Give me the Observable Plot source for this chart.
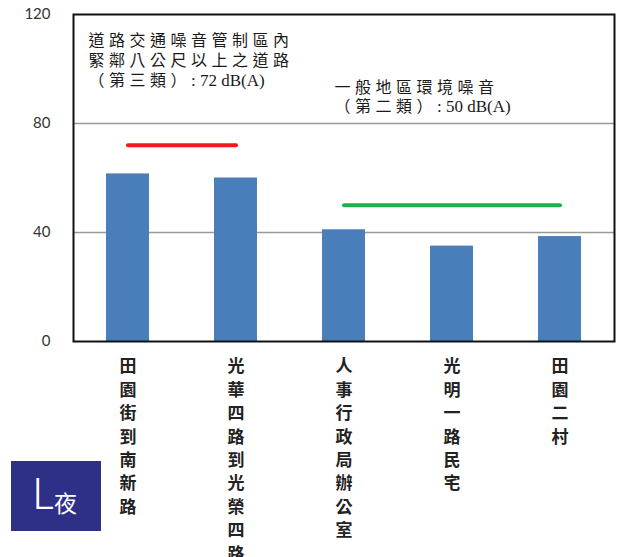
<!DOCTYPE html>
<html>
<head>
<meta charset="utf-8">
<script src="https://cdn.jsdelivr.net/npm/d3@7"></script>
<script src="https://cdn.jsdelivr.net/npm/@observablehq/plot@0.6"></script>
<style>
  body { margin: 0; background: #fff; }
  #wrap { position: relative; width: 630px; height: 557px; overflow: hidden; }
  #badge { position: absolute; left: 11px; top: 461px; width: 90px; height: 70px; background: #2E2F87; color: #fff; font-family: "Noto Sans CJK TC", "Noto Sans", sans-serif; }
  #badge .L { position: absolute; left: 21px; top: 9px; font-size: 42px; font-weight: 300; line-height: 1; }
  #badge .n { position: absolute; left: 43px; top: 30px; font-size: 23px; line-height: 1; }
  .note text { letter-spacing: 4.5px; }
  .note .latin { letter-spacing: 0; font-family: "Liberation Serif", "DejaVu Serif", serif; font-size: 17px; }
</style>
</head>
<body>
<div id="wrap">
<div id="chart"></div>
<div id="badge"><span class="L">L</span><span class="n">夜</span></div>
</div>
<script>
const categories = ["田園街到南新路", "光華四路到光榮四路", "人事行政局辦公室", "光明一路民宅", "田園二村"];
const values = [61.5, 60, 41, 35, 38.5];
const yTicks = [0, 40, 80, 120];
const gridTicks = [40, 80];
const limit3Value = 72;
const limit3Cats = [categories[0], categories[1]];
const limit2Value = 50;
const limit2Cats = [categories[2], categories[3], categories[4]];
const note3 = ["道路交通噪音管制區內", "緊鄰八公尺以上之道路", "（第三類）: 72 dB(A)"];
const note2 = ["一般地區環境噪音", "（第二類）: 50 dB(A)"];

const data = categories.map((c, i) => ({ category: c, value: values[i] }));
const limit3 = limit3Cats.map(c => ({ category: c, value: limit3Value }));
const limit2 = limit2Cats.map(c => ({ category: c, value: limit2Value }));
const cjk = '"Noto Sans CJK TC", "Noto Sans", sans-serif';

const chart = Plot.plot({
  width: 630,
  height: 557,
  marginLeft: 73,
  marginRight: 16,
  marginTop: 14,
  marginBottom: 216,
  style: { fontFamily: cjk, background: "#fff" },
  x: { domain: categories, paddingInner: 0.6, paddingOuter: 0.3, axis: null },
  y: { domain: [0, 120], ticks: yTicks, axis: null },
  marks: [
    Plot.ruleY(gridTicks, { stroke: "#999", strokeWidth: 1.5 }),
    Plot.barY(data, { x: "category", y: "value", fill: "#4A7EBB" }),
    Plot.line(limit3, { x: "category", y: "value", stroke: "#EE1C1C", strokeWidth: 4, strokeLinecap: "round" }),
    Plot.line(limit2, { x: "category", y: "value", stroke: "#1DB04C", strokeWidth: 4, strokeLinecap: "round" }),
    Plot.frame({ stroke: "#111", strokeWidth: 2 }),
    Plot.text(yTicks, { y: d => d, text: d => String(d), frameAnchor: "left", textAnchor: "end", dx: -23, fontSize: 15, fill: "#333", fontFamily: "Lato, 'Open Sans', sans-serif" }),
    Plot.text([note3.join("\n")], { frameAnchor: "top-left", dx: 15, dy: 17, textAnchor: "start", lineAnchor: "top", lineHeight: 1.25, fontSize: 16, fill: "#1a1a1a", className: "note" }),
    Plot.text([note2.join("\n")], { frameAnchor: "top-left", dx: 261, dy: 65, textAnchor: "start", lineAnchor: "top", lineHeight: 1.2, fontSize: 16, fill: "#1a1a1a", className: "note" }),
    Plot.text(categories, { x: d => d, text: d => Array.from(d).join("\n"), frameAnchor: "bottom", lineAnchor: "top", dy: 14, lineHeight: 1.38, fontSize: 17, fontWeight: "bold", fill: "#222" })
  ]
});
// style Latin runs in the notes without letter spacing, in a serif face
d3.select(chart).selectAll(".note tspan").each(function () {
  const el = d3.select(this);
  const s = el.text();
  const runs = s.match(/[\x20-\x7E]+|[^\x20-\x7E]+/g) || [];
  if (runs.length < 2) return;
  el.text(null);
  runs.forEach(r => {
    const t = el.append("tspan").text(r);
    if (/^[\x20-\x7E]+$/.test(r)) t.attr("class", "latin");
  });
});
document.getElementById("chart").append(chart);
</script>
</body>
</html>
